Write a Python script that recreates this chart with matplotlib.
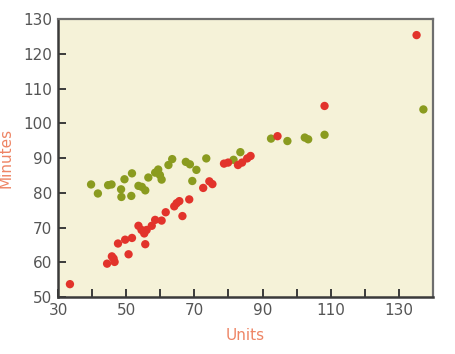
import matplotlib
matplotlib.use("Agg")
import matplotlib.pyplot as plt
from matplotlib.ticker import MultipleLocator

# red series (units, minutes)
red_units = [33.5, 44.4, 45.8, 46.3, 46.6, 47.6, 49.7, 50.7, 51.7, 53.6, 54.5,
             55.3, 56.0, 55.6, 57.5, 58.5, 60.4, 61.6, 64.1, 64.8, 65.6, 66.5,
             68.5, 72.6, 74.4, 75.3, 78.7, 79.9, 82.8, 84.0, 85.5, 86.5, 94.4,
             108.2, 135.2]
red_minutes = [53.7, 59.6, 61.7, 61.1, 60.1, 65.4, 66.5, 62.3, 67.0, 70.5, 69.3,
               68.3, 69.3, 65.2, 70.5, 72.2, 72.0, 74.4, 76.1, 77.0, 77.6, 73.3,
               78.1, 81.4, 83.3, 82.5, 88.4, 88.7, 88.0, 88.7, 89.9, 90.6, 96.3,
               105.0, 125.4]

# green series
green_units = [39.7, 41.7, 44.7, 45.7, 48.5, 48.6, 49.5, 51.5, 51.7, 53.6, 54.6,
               55.6, 56.5, 58.5, 59.4, 59.9, 60.4, 62.4, 63.5, 67.5, 68.7, 69.4,
               70.6, 73.5, 81.5, 83.5, 92.5, 97.3, 102.4, 103.4, 108.2, 137.2]
green_minutes = [82.4, 79.8, 82.2, 82.4, 81.0, 78.8, 83.9, 79.1, 85.6, 82.0, 81.7,
                 80.7, 84.4, 85.8, 86.7, 85.1, 83.8, 88.0, 89.7, 88.9, 88.2, 83.4,
                 86.6, 89.9, 89.5, 91.7, 95.6, 94.9, 95.9, 95.4, 96.7, 104.0]

x_labels = [30, 50, 70, 90, 110, 130]
y_labels = [50, 60, 70, 80, 90, 100, 110, 120, 130]

kolor_tla = "#f5f2d8"
kolor_zielony = "#8a9b1f"
kolor_czerwony = "#e2332b"
kolor_opisu = "#ee8565"
kolor_tekstu = "#555555"

fig = plt.figure(figsize=(4.55, 3.54), dpi=100)
ax = fig.add_axes([0.1275, 0.161, 0.824, 0.785])
ax.set_facecolor(kolor_tla)

ax.scatter(green_units, green_minutes, s=36, color=kolor_zielony, edgecolors="none", zorder=3)
ax.scatter(red_units, red_minutes, s=36, color=kolor_czerwony, edgecolors="none", zorder=3)

ax.set_xlim(30, 140)
ax.set_ylim(50, 130)
ax.set_xticks(x_labels)
ax.xaxis.set_minor_locator(MultipleLocator(10))
ax.set_yticks(y_labels)

ax.tick_params(which="both", direction="in", length=6, width=1.4, color="#3a3a3a",
               labelsize=11, labelcolor=kolor_tekstu, pad=4)

for s in ["left", "bottom"]:
    ax.spines[s].set_color("#3a3a3a")
    ax.spines[s].set_linewidth(1.8)
for s in ["top", "right"]:
    ax.spines[s].set_color("#6e6e6e")
    ax.spines[s].set_linewidth(1.6)

ax.set_xlabel("Units", fontsize=11, color=kolor_opisu)
ax.set_ylabel("Minutes", fontsize=11, color=kolor_opisu)
ax.xaxis.set_label_coords(0.5, -0.112)
ax.yaxis.set_label_coords(-0.118, 0.5)

fig.savefig("out.png", dpi=100)
